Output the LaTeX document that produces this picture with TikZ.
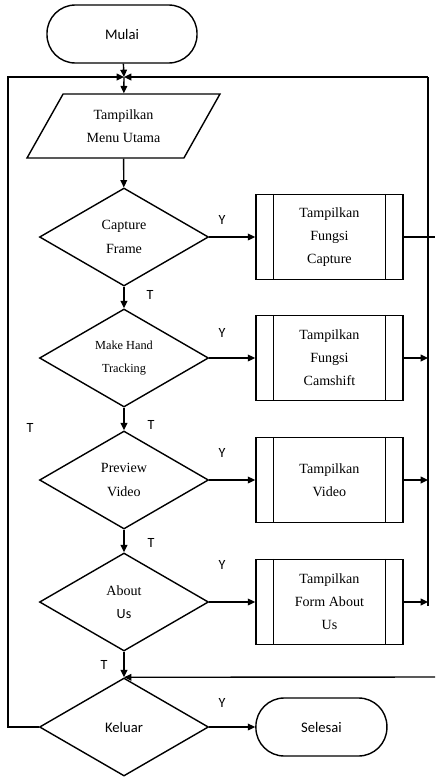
\documentclass[tikz,border=0pt]{standalone}
\usepackage{fontspec}
\setmainfont{Liberation Serif}
\newfontfamily\labelfont{Carlito}
\usetikzlibrary{arrows.meta,positioning,shapes.geometric}

\begin{document}
\begin{tikzpicture}[x=0.03cm,y=-0.03cm,node distance=1.38cm,
    >={Triangle[length=2.2mm,width=2mm]},line width=1.2pt,
    terminal/.style={draw,rounded corners=8.5mm,minimum height=1.74cm,
      font=\labelfont\fontsize{12.5}{14}\selectfont},
    io/.style={draw,trapezium,trapezium left angle=59,trapezium right angle=121,
      trapezium stretches=true,minimum width=5.79cm,minimum height=1.92cm,
      align=center,font=\fontsize{12}{19.5}\selectfont},
    decision/.style={draw,diamond,inner sep=0pt,minimum width=5.07cm,
      minimum height=2.94cm,align=center,font=\fontsize{12}{20}\selectfont},
    procbox/.style={draw,minimum width=4.41cm,minimum height=2.55cm,
      align=center,font=\fontsize{12}{19.5}\selectfont},
    tag/.style={font=\labelfont\fontsize{12}{14}\selectfont}]
  \useasboundingbox (0,0) rectangle (435,778);

  \node[terminal,minimum width=4.5cm] (mulai) at (122,34) {Mulai};
  \node[io] (menu) at (123.5,126) {Tampilkan\\Menu Utama};
  \node[decision] (capture) at (124,237) {Capture\\Frame};
  \node[decision,font=\fontsize{10.5}{20}\selectfont] (tracking) at (124,358)
        {Make Hand\\Tracking};
  \node[decision] (preview) at (124,480) {Preview\\Video};
  \node[decision] (about) at (124,602) {About\\{\labelfont Us}};
  \node[decision,font=\labelfont\fontsize{12.5}{14}\selectfont] (keluar) at (124,727)
        {Keluar};

  \node[procbox,right=of capture] (fcapture) {Tampilkan\\Fungsi\\Capture};
  \node[procbox,right=of tracking] (fcamshift) {Tampilkan\\Fungsi\\Camshift};
  \node[procbox,right=of preview] (fvideo) {Tampilkan\\Video};
  \node[procbox,right=of about] (fabout) {Tampilkan\\Form About\\Us};
  \node[terminal,right=of keluar,minimum width=3.93cm] (selesai) {Selesai};

  \foreach \n in {fcapture,fcamshift,fvideo,fabout} {
    \draw ([xshift=5.4mm]\n.north west) -- ([xshift=5.4mm]\n.south west);
    \draw ([xshift=-5.4mm]\n.north east) -- ([xshift=-5.4mm]\n.south east);
  }

  % labels
  \node[tag] (y1) at (222,220) {Y};
  \node[tag] (y2) at (222,333) {Y};
  \node[tag] (y3) at (222,453) {Y};
  \node[tag] (y4) at (222,565) {Y};
  \node[tag] (y5) at (222,703) {Y};
  \node[tag] (t1) at (150,295) {T};
  \node[tag] (t2) at (151,425) {T};
  \node[tag] (t3) at (151,543) {T};
  \node[tag] (t4) at (104,665) {T};
  \node[tag] (t5) at (30,428) {T};

  % loop points
  \coordinate (top) at (124,77);
  \coordinate (tl) at (8,77);
  \coordinate (tr) at (428,77);
  \coordinate (lb) at (8,727);
  \coordinate (rb) at (428,606);
  \coordinate (cr) at (435,235);
  \coordinate (br) at (435,677);

  \draw[->] (mulai) -- (top);
  \draw[->] (top) -- (menu);
  \draw[->] (menu) -- (capture);
  \draw[->] (capture) -- (tracking);
  \draw[->] (tracking) -- (preview);
  \draw[->] (preview) -- (about);
  \draw[->] (about) -- (keluar);

  \draw[->] (capture) -- (fcapture);
  \draw[->] (tracking) -- (fcamshift);
  \draw[->] (preview) -- (fvideo);
  \draw[->] (about) -- (fabout);
  \draw[->] (keluar) -- (selesai);

  \draw (fcapture.east) -- (fcapture.east -| cr);
  \draw[->] (fcamshift.east) -- (fcamshift.east -| rb);
  \draw[->] (fvideo.east) -- (fvideo.east -| rb);
  \draw[->] (fabout.east) -- (fabout.east -| rb);
  \draw (rb) -- (tr);
  \draw[->] (tr) -- (top);
  \draw[->] (keluar.west) -- (lb) -- (tl) -- (top);
  \draw[->] (br) -- (keluar.north);
\end{tikzpicture}
\end{document}
